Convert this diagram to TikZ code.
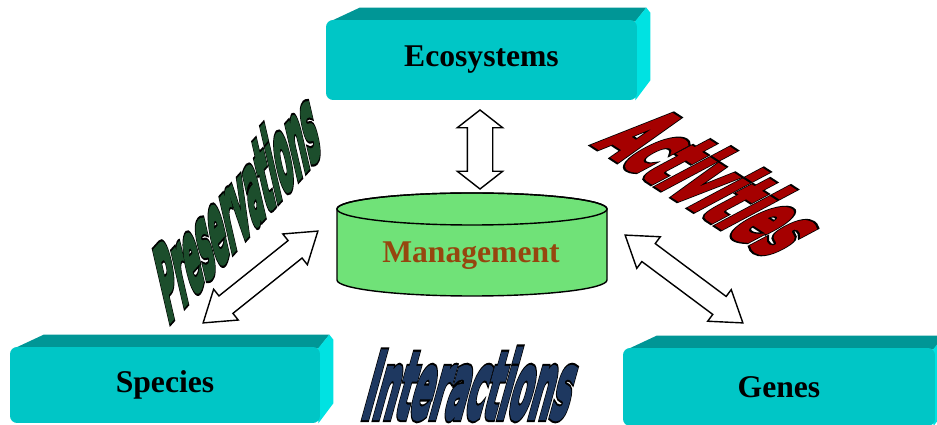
\documentclass[tikz,border=0pt]{standalone}
\usepackage{fontspec}
\setmainfont{Liberation Serif}
\newfontfamily\artfont{DejaVu Sans}
\usetikzlibrary{shapes.arrows, calc, backgrounds}
\definecolor{boxfront}{RGB}{0,198,198}
\definecolor{boxtop}{RGB}{0,150,150}
\definecolor{boxside}{RGB}{0,226,226}
\definecolor{cylgreen}{RGB}{112,226,120}
\definecolor{mgmtbrown}{RGB}{150,70,15}
\definecolor{presgreen}{RGB}{28,78,44}
\definecolor{actred}{RGB}{165,0,0}
\definecolor{interblue}{RGB}{30,56,96}
% black rim first, then the coloured letters fattened on top
\newcommand\outlined[2]{\rlap{\color{black}\special{pdf:literal direct 2 Tr 1.8 w}#2}%
  {\color{#1}\special{pdf:literal direct 2 Tr 0.9 w}#2}\special{pdf:literal direct 0 Tr}}
\tikzstyle{facebox}=[rectangle, rounded corners=4pt, fill=boxfront,
  inner sep=0pt, font=\fontsize{18}{21}\selectfont\bfseries]
\tikzstyle{topface}=[fill=boxtop]
\tikzstyle{sideface}=[fill=boxside]
\tikzstyle{dblarrow}=[double arrow, draw=black, fill=white, thick,
  inner xsep=0pt, double arrow head indent=0pt]
\tikzstyle{wordart}=[transform shape, anchor=base, inner sep=0pt,
  font=\artfont\bfseries\fontsize{20}{24}\selectfont]

\begin{document}
\begin{tikzpicture}[x=0.02cm, y=-0.02cm]
    \useasboundingbox (0,0) rectangle (937,425);
    % the three boxes
    \node[facebox, minimum width=6.22cm, minimum height=1.6cm] (eco) at (481.5,60) {Ecosystems};
    \node[facebox, minimum width=6.2cm, minimum height=1.52cm] (spec) at (165,385) {Species};
    \node[facebox, minimum width=6.24cm, minimum height=1.56cm] (gen) at (779,387) {Genes};
    \begin{scope}[on background layer]
      \fill[topface] ($(eco.north west)+(4,2)$) -- ($(eco.north west)+(34,-12)$)
        -- ($(eco.north east)+(9,-12)$) -- ($(eco.north east)+(-2,2)$) -- cycle;
      \fill[sideface] ($(eco.north east)+(-4,4)$) -- ($(eco.north east)+(9,-12)$)
        -- ($(eco.north east)+(13,-7)$) -- ($(eco.south east)+(13,-20)$) -- ($(eco.south east)+(-2,0)$) -- cycle;
      \fill[topface] ($(spec.north west)+(4,2)$) -- ($(spec.north west)+(34,-12)$)
        -- ($(spec.north east)+(9,-12)$) -- ($(spec.north east)+(-2,2)$) -- cycle;
      \fill[sideface] ($(spec.north east)+(-4,4)$) -- ($(spec.north east)+(9,-12)$)
        -- ($(spec.north east)+(13,-7)$) -- ($(spec.south east)+(13,-20)$) -- ($(spec.south east)+(-2,0)$) -- cycle;
      \fill[topface] ($(gen.north west)+(4,2)$) -- ($(gen.north west)+(34,-12)$)
        -- ($(gen.north east)+(9,-12)$) -- ($(gen.north east)+(-2,2)$) -- cycle;
      \fill[sideface] ($(gen.north east)+(-4,4)$) -- ($(gen.north east)+(9,-12)$)
        -- ($(gen.north east)+(13,-7)$) -- ($(gen.south east)+(13,-20)$) -- ($(gen.south east)+(-2,0)$) -- cycle;
    \end{scope}
    % management cylinder
    \draw[thick, fill=cylgreen] (337,209) -- (337,280)
      arc[start angle=180, end angle=0, x radius=135, y radius=16]
      -- (607,209) arc[start angle=0, end angle=-180, x radius=135, y radius=16] -- cycle;
    \draw[thick] (472,209) ellipse [x radius=135, y radius=16];
    \node[font=\fontsize{18}{21}\selectfont\bfseries, text=mgmtbrown] (mgmt) at (471,256) {Management};
    % arrow ends
    \coordinate (ecoTip) at (480,110);
    \coordinate (mgmtTop) at (480,189);
    \coordinate (specTip) at (203,323);
    \coordinate (mgmtLeft) at (318,231);
    \coordinate (genTip) at (743,323);
    \coordinate (mgmtRight) at (625,235);
    \path let \p1=($(mgmtTop)-(ecoTip)$), \n1={veclen(\x1,\y1)} in
      (ecoTip) -- node[dblarrow, sloped, minimum height=\n1, inner ysep=0.24cm,
      double arrow head extend=0.2cm, double arrow tip angle=104] {} (mgmtTop);
    \path let \p1=($(mgmtLeft)-(specTip)$), \n1={veclen(\x1,\y1)} in
      (specTip) -- node[dblarrow, sloped, minimum height=\n1, inner ysep=0.21cm,
      double arrow head extend=0.17cm, double arrow tip angle=68] {} (mgmtLeft);
    \path let \p1=($(genTip)-(mgmtRight)$), \n1={veclen(\x1,\y1)} in
      (mgmtRight) -- node[dblarrow, sloped, minimum height=\n1, inner ysep=0.21cm,
      double arrow head extend=0.17cm, double arrow tip angle=68] {} (genTip);
    % word art labels
    \node[wordart, cm={0.562,0.624,-0.63,2.73,(0,0)}] (pres) at (245,238) {\outlined{presgreen}{Preservations}};
    \node[wordart, cm={0.94,-0.61,2.65,1.41,(0,0)}] (act) at (681,201) {\outlined{actred}{Activities}};
    \node[wordart, cm={0.86,0,0.72,2.6,(0,0)}] (inter) at (463,418) {\outlined{interblue}{Interactions}};
\end{tikzpicture}
\end{document}
